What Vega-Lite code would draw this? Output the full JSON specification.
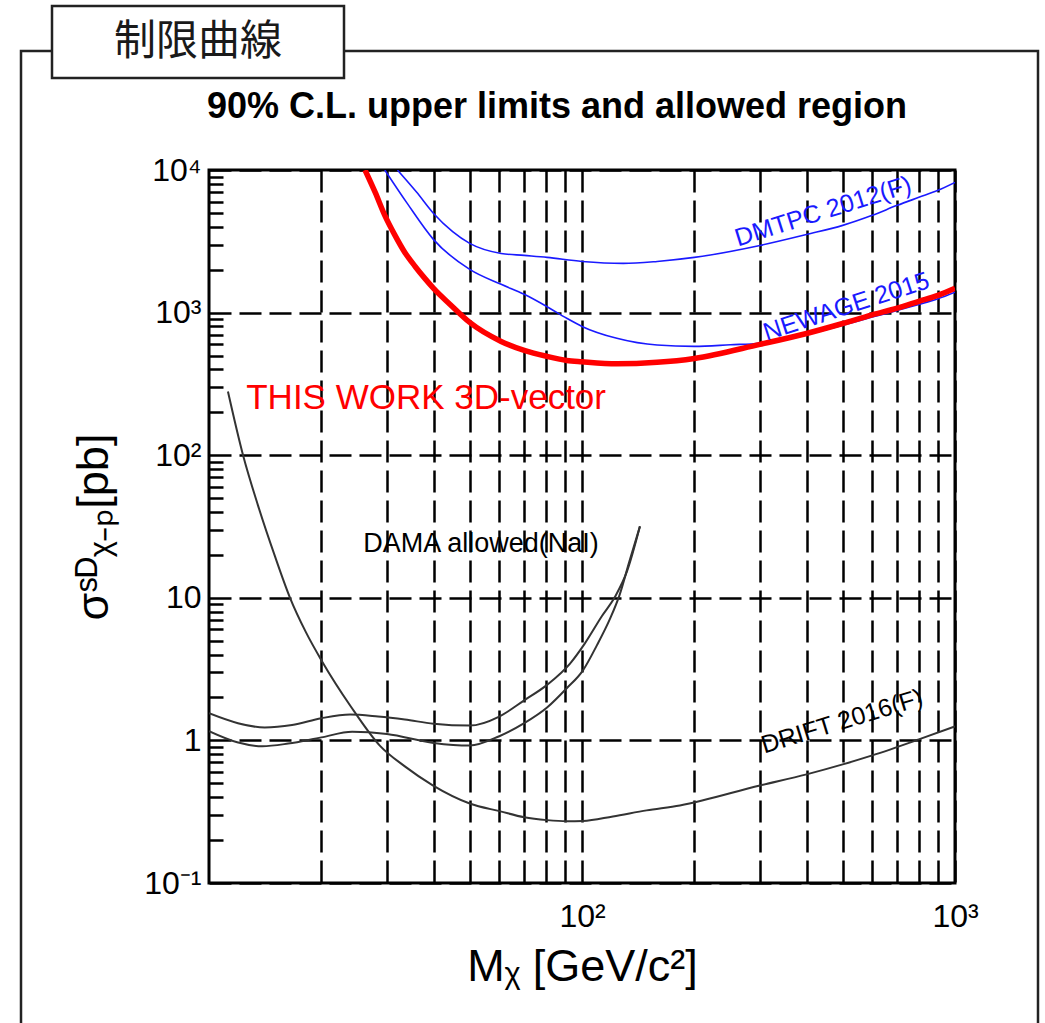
{
  "$schema": "https://vega.github.io/schema/vega-lite/v6.json",
  "width": 746,
  "height": 713,
  "autosize": {"type": "none"},
  "padding": {"left": 209, "top": 170, "right": 90, "bottom": 140},
  "background": "white",
  "title": {"text": "90% C.L. upper limits and allowed region", "font": "Liberation Sans", "fontSize": 36, "fontWeight": "bold", "color": "black", "anchor": "middle", "dx": -25, "baseline": "alphabetic", "offset": -149},
  "config": {"view": {"stroke": "black", "strokeWidth": 3}, "font": "Liberation Sans"},
  "resolve": {"axis": {"y": "independent"}},
  "datasets": {
    "curves": [
      {"series": "THIS WORK", "m": 26.2, "s": 10000},
      {"series": "THIS WORK", "m": 27.9, "s": 6960},
      {"series": "THIS WORK", "m": 29.6, "s": 4810},
      {"series": "THIS WORK", "m": 31.5, "s": 3497},
      {"series": "THIS WORK", "m": 33.5, "s": 2643},
      {"series": "THIS WORK", "m": 35.7, "s": 2107},
      {"series": "THIS WORK", "m": 37.9, "s": 1738},
      {"series": "THIS WORK", "m": 40, "s": 1479},
      {"series": "THIS WORK", "m": 44.3, "s": 1141},
      {"series": "THIS WORK", "m": 50, "s": 853},
      {"series": "THIS WORK", "m": 60.7, "s": 628},
      {"series": "THIS WORK", "m": 70, "s": 543},
      {"series": "THIS WORK", "m": 80.6, "s": 493},
      {"series": "THIS WORK", "m": 91, "s": 462},
      {"series": "THIS WORK", "m": 100, "s": 452},
      {"series": "THIS WORK", "m": 124, "s": 437},
      {"series": "THIS WORK", "m": 159, "s": 448},
      {"series": "THIS WORK", "m": 200, "s": 477},
      {"series": "THIS WORK", "m": 300, "s": 599},
      {"series": "THIS WORK", "m": 400, "s": 714},
      {"series": "THIS WORK", "m": 500, "s": 839},
      {"series": "THIS WORK", "m": 600, "s": 965},
      {"series": "THIS WORK", "m": 700, "s": 1075},
      {"series": "THIS WORK", "m": 800, "s": 1199},
      {"series": "THIS WORK", "m": 900, "s": 1320},
      {"series": "THIS WORK", "m": 1000, "s": 1480},
      {"series": "DMTPC", "m": 32, "s": 10000},
      {"series": "DMTPC", "m": 36, "s": 7000},
      {"series": "DMTPC", "m": 40, "s": 4960},
      {"series": "DMTPC", "m": 45, "s": 3700},
      {"series": "DMTPC", "m": 50, "s": 3060},
      {"series": "DMTPC", "m": 60.7, "s": 2600},
      {"series": "DMTPC", "m": 70, "s": 2518},
      {"series": "DMTPC", "m": 80.6, "s": 2438},
      {"series": "DMTPC", "m": 100, "s": 2285},
      {"series": "DMTPC", "m": 129, "s": 2213},
      {"series": "DMTPC", "m": 159, "s": 2285},
      {"series": "DMTPC", "m": 200, "s": 2438},
      {"series": "DMTPC", "m": 300, "s": 2958},
      {"series": "DMTPC", "m": 400, "s": 3532},
      {"series": "DMTPC", "m": 500, "s": 4090},
      {"series": "DMTPC", "m": 600, "s": 4810},
      {"series": "DMTPC", "m": 700, "s": 5650},
      {"series": "DMTPC", "m": 800, "s": 6430},
      {"series": "DMTPC", "m": 900, "s": 7200},
      {"series": "DMTPC", "m": 1000, "s": 8190},
      {"series": "NEWAGE", "m": 29.6, "s": 10000},
      {"series": "NEWAGE", "m": 34, "s": 5830},
      {"series": "NEWAGE", "m": 40, "s": 3250},
      {"series": "NEWAGE", "m": 50, "s": 2010},
      {"series": "NEWAGE", "m": 60.7, "s": 1578},
      {"series": "NEWAGE", "m": 70, "s": 1343},
      {"series": "NEWAGE", "m": 80.6, "s": 1100},
      {"series": "NEWAGE", "m": 91, "s": 912},
      {"series": "NEWAGE", "m": 100, "s": 800},
      {"series": "NEWAGE", "m": 124, "s": 660},
      {"series": "NEWAGE", "m": 159, "s": 592},
      {"series": "NEWAGE", "m": 200, "s": 580},
      {"series": "NEWAGE", "m": 250, "s": 595},
      {"series": "NEWAGE", "m": 300, "s": 610},
      {"series": "NEWAGE", "m": 400, "s": 702},
      {"series": "NEWAGE", "m": 500, "s": 815},
      {"series": "NEWAGE", "m": 600, "s": 930},
      {"series": "NEWAGE", "m": 700, "s": 1035},
      {"series": "NEWAGE", "m": 800, "s": 1140},
      {"series": "NEWAGE", "m": 900, "s": 1250},
      {"series": "NEWAGE", "m": 1000, "s": 1390},
      {"series": "DRIFT", "m": 11.24, "s": 280},
      {"series": "DRIFT", "m": 12.34, "s": 100},
      {"series": "DRIFT", "m": 13.53, "s": 44.5},
      {"series": "DRIFT", "m": 15.03, "s": 19.5},
      {"series": "DRIFT", "m": 16.49, "s": 10},
      {"series": "DRIFT", "m": 18.2, "s": 5.72},
      {"series": "DRIFT", "m": 20.1, "s": 3.58},
      {"series": "DRIFT", "m": 24.0, "s": 1.73},
      {"series": "DRIFT", "m": 28.7, "s": 0.92},
      {"series": "DRIFT", "m": 33.5, "s": 0.657},
      {"series": "DRIFT", "m": 39.8, "s": 0.484},
      {"series": "DRIFT", "m": 50, "s": 0.361},
      {"series": "DRIFT", "m": 60.4, "s": 0.318},
      {"series": "DRIFT", "m": 70, "s": 0.289},
      {"series": "DRIFT", "m": 80.6, "s": 0.276},
      {"series": "DRIFT", "m": 91, "s": 0.271},
      {"series": "DRIFT", "m": 100.6, "s": 0.272},
      {"series": "DRIFT", "m": 121, "s": 0.293},
      {"series": "DRIFT", "m": 149, "s": 0.323},
      {"series": "DRIFT", "m": 183, "s": 0.35},
      {"series": "DRIFT", "m": 300, "s": 0.483},
      {"series": "DRIFT", "m": 400, "s": 0.578},
      {"series": "DRIFT", "m": 500, "s": 0.679},
      {"series": "DRIFT", "m": 600, "s": 0.785},
      {"series": "DRIFT", "m": 800, "s": 1.016},
      {"series": "DRIFT", "m": 1000, "s": 1.254},
      {"series": "DAMA upper", "m": 10, "s": 1.55},
      {"series": "DAMA upper", "m": 11.96, "s": 1.32},
      {"series": "DAMA upper", "m": 14.1, "s": 1.23},
      {"series": "DAMA upper", "m": 16.7, "s": 1.28},
      {"series": "DAMA upper", "m": 20, "s": 1.43},
      {"series": "DAMA upper", "m": 23.9, "s": 1.52},
      {"series": "DAMA upper", "m": 28.4, "s": 1.47},
      {"series": "DAMA upper", "m": 33.5, "s": 1.40},
      {"series": "DAMA upper", "m": 40, "s": 1.31},
      {"series": "DAMA upper", "m": 50, "s": 1.27},
      {"series": "DAMA upper", "m": 60, "s": 1.47},
      {"series": "DAMA upper", "m": 70, "s": 1.91},
      {"series": "DAMA upper", "m": 80.6, "s": 2.45},
      {"series": "DAMA upper", "m": 93, "s": 3.47},
      {"series": "DAMA upper", "m": 101.8, "s": 4.79},
      {"series": "DAMA upper", "m": 113, "s": 7.42},
      {"series": "DAMA upper", "m": 122.7, "s": 10.2},
      {"series": "DAMA upper", "m": 132, "s": 15.3},
      {"series": "DAMA upper", "m": 143, "s": 31.7},
      {"series": "DAMA lower", "m": 10, "s": 1.16},
      {"series": "DAMA lower", "m": 11.9, "s": 0.97},
      {"series": "DAMA lower", "m": 13.9, "s": 0.91},
      {"series": "DAMA lower", "m": 16.3, "s": 0.95},
      {"series": "DAMA lower", "m": 20, "s": 1.05},
      {"series": "DAMA lower", "m": 24.2, "s": 1.15},
      {"series": "DAMA lower", "m": 30, "s": 1.11},
      {"series": "DAMA lower", "m": 40, "s": 0.96},
      {"series": "DAMA lower", "m": 50, "s": 0.92},
      {"series": "DAMA lower", "m": 60, "s": 1.07},
      {"series": "DAMA lower", "m": 70, "s": 1.32},
      {"series": "DAMA lower", "m": 80.6, "s": 1.70},
      {"series": "DAMA lower", "m": 91, "s": 2.32},
      {"series": "DAMA lower", "m": 100.6, "s": 3.10},
      {"series": "DAMA lower", "m": 109.6, "s": 4.64},
      {"series": "DAMA lower", "m": 119, "s": 7.17},
      {"series": "DAMA lower", "m": 126, "s": 10.4},
      {"series": "DAMA lower", "m": 134, "s": 18.0},
      {"series": "DAMA lower", "m": 143, "s": 31.7}
    ]
  },
  "layer": [
    {
      "data": {"values": [{"frame": "outer"}]},
      "mark": {"type": "rect", "fillOpacity": 0, "stroke": "#222222", "strokeWidth": 2.5},
      "encoding": {"x": {"value": -188}, "x2": {"value": 829}, "y": {"value": -119}, "y2": {"value": 900}}
    },
    {
      "data": {"values": [{"frame": "label"}]},
      "mark": {"type": "rect", "fill": "white", "stroke": "#222222", "strokeWidth": 2.5},
      "encoding": {"x": {"value": -157}, "x2": {"value": 135}, "y": {"value": -164}, "y2": {"value": -92}}
    },
    {
      "data": {"values": [{"frame": "label"}]},
      "mark": {"type": "text", "text": "制限曲線", "font": "Noto Sans CJK JP", "fontSize": 42, "color": "#1a1a1a", "align": "center", "baseline": "middle"},
      "encoding": {"x": {"value": -11}, "y": {"value": -128}}
    },
    {
      "data": {"name": "curves"},
      "transform": [{"filter": "indexof(['DRIFT','DAMA upper','DAMA lower'], datum.series) >= 0"}],
      "mark": {"type": "line", "clip": true, "interpolate": "monotone", "color": "#333333", "strokeWidth": 2},
      "encoding": {
        "x": {"field": "m", "type": "quantitative", "scale": {"type": "log", "domain": [10, 1000], "nice": false},
          "axis": {
            "values": [20, 30, 40, 50, 60, 70, 80, 90, 100, 200, 300, 400, 500, 600, 700, 800, 900, 1000],
            "grid": true, "gridColor": "black", "gridWidth": 2.5, "gridDash": [22, 8],
            "ticks": false, "domain": false,
            "labelExpr": "datum.value == 100 ? '10²' : datum.value == 1000 ? '10³' : ''",
            "labelFont": "Liberation Sans", "labelFontSize": 32, "labelColor": "black", "labelPadding": 18, "labelOverlap": false, "labelFlush": false,
            "title": "Mᵪ [GeV/c²]", "titleFont": "Liberation Sans", "titleFontSize": 45, "titleFontWeight": "normal", "titleColor": "black", "titlePadding": 12
          }
        },
        "y": {"field": "s", "type": "quantitative", "scale": {"type": "log", "domain": [0.1, 10000], "nice": false},
          "axis": {
            "orient": "left",
            "values": [0.1, 1, 10, 100, 1000, 10000],
            "grid": true, "gridColor": "black", "gridWidth": 2.5, "gridDash": [22, 8],
            "ticks": false,
            "domain": false,
            "labelExpr": "datum.value == 10000 ? '10⁴' : datum.value == 1000 ? '10³' : datum.value == 100 ? '10²' : datum.value == 10 ? '10' : datum.value == 1 ? '1' : '10⁻¹'",
            "labelFont": "Liberation Sans", "labelFontSize": 32, "labelColor": "black", "labelPadding": 8, "labelOverlap": false, "labelFlush": false, "labelBaseline": "middle",
            "title": "σˢᴰᵪ₋ₚ[pb]", "titleFont": "Liberation Sans", "titleFontSize": 45, "titleFontWeight": "normal", "titleColor": "black", "titlePadding": 27
          }
        },
        "detail": {"field": "series", "type": "nominal"}
      }
    },
    {
      "data": {"name": "curves"},
      "transform": [{"filter": "indexof(['DMTPC','NEWAGE'], datum.series) >= 0"}],
      "mark": {"type": "line", "clip": true, "interpolate": "monotone", "color": "#1a1aff", "strokeWidth": 1.6},
      "encoding": {
        "x": {"field": "m", "type": "quantitative"},
        "y": {"field": "s", "type": "quantitative", "axis": null},
        "detail": {"field": "series", "type": "nominal"}
      }
    },
    {
      "data": {"name": "curves"},
      "transform": [{"filter": "datum.series == 'THIS WORK'"}],
      "mark": {"type": "line", "clip": true, "interpolate": "monotone", "color": "#ff0000", "strokeWidth": 5.5},
      "encoding": {
        "x": {"field": "m", "type": "quantitative"},
        "y": {"field": "s", "type": "quantitative",
          "axis": {
            "orient": "right", "offset": -746,
            "values": [0.2, 0.3, 0.4, 0.5, 0.6, 0.7, 0.8, 0.9, 2, 3, 4, 5, 6, 7, 8, 9, 20, 30, 40, 50, 60, 70, 80, 90, 200, 300, 400, 500, 600, 700, 800, 900, 2000, 3000, 4000, 5000, 6000, 7000, 8000, 9000],
            "grid": false, "domain": false, "labels": false, "title": null,
            "ticks": true, "tickSize": 14, "tickWidth": 2.5, "tickColor": "black"
          }
        }
      }
    },
    {
      "data": {"values": [{"label": "THIS WORK 3D-vector"}]},
      "mark": {"type": "text", "color": "#ff0000", "font": "Liberation Sans", "fontSize": 35, "align": "center", "baseline": "middle"},
      "encoding": {"text": {"field": "label"}, "x": {"datum": 38.2}, "y": {"datum": 250, "axis": null}}
    },
    {
      "data": {"values": [{"label": "DAMA allowed(NaI)"}]},
      "mark": {"type": "text", "color": "black", "font": "Liberation Sans", "fontSize": 27, "align": "center", "baseline": "middle"},
      "encoding": {"text": {"field": "label"}, "x": {"datum": 53.6}, "y": {"datum": 23.7, "axis": null}}
    },
    {
      "data": {"values": [{"label": "DMTPC 2012(F)"}]},
      "mark": {"type": "text", "color": "#1a1aff", "font": "Liberation Sans", "fontSize": 25, "align": "center", "baseline": "middle", "angle": -17.5},
      "encoding": {"text": {"field": "label"}, "x": {"datum": 443}, "y": {"datum": 5130, "axis": null}}
    },
    {
      "data": {"values": [{"label": "NEWAGE 2015"}]},
      "mark": {"type": "text", "color": "#1a1aff", "font": "Liberation Sans", "fontSize": 25, "align": "center", "baseline": "middle", "angle": -18},
      "encoding": {"text": {"field": "label"}, "x": {"datum": 511}, "y": {"datum": 1105, "axis": null}}
    },
    {
      "data": {"values": [{"label": "DRIFT 2016(F)"}]},
      "mark": {"type": "text", "color": "black", "font": "Liberation Sans", "fontSize": 25, "align": "center", "baseline": "middle", "angle": -17},
      "encoding": {"text": {"field": "label"}, "x": {"datum": 498}, "y": {"datum": 1.36, "axis": null}}
    }
  ]
}
